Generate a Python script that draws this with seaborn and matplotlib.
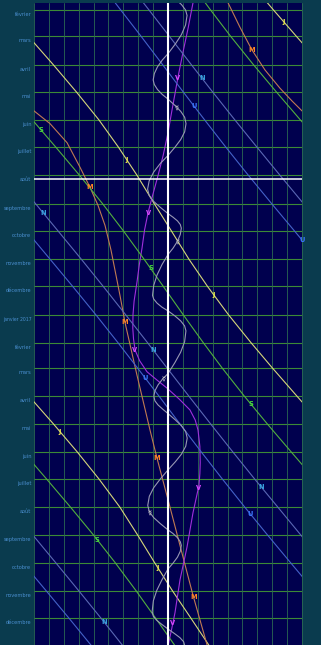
import matplotlib
matplotlib.use("Agg")
import matplotlib.pyplot as plt
import matplotlib.transforms as mtransforms
from matplotlib import font_manager
import numpy as np
import pandas as pd
import seaborn as sns

# ---------------- data (days since 2016-02-01, elongation in degrees; 0 = Sun) -------------
T0 = pd.Timestamp("2016-02-01")
month_names = ["février", "mars", "avril", "mai", "juin", "juillet", "août", "septembre",
               "octobre", "novembre", "décembre", "janvier 2017", "février", "mars", "avril",
               "mai", "juin", "juillet", "août", "septembre", "octobre", "novembre", "décembre"]
month_dates = ["2016-02-01", "2016-03-01", "2016-04-01", "2016-05-01", "2016-06-01", "2016-07-01",
               "2016-08-01", "2016-09-01", "2016-10-01", "2016-11-01", "2016-12-01", "2017-01-01",
               "2017-02-01", "2017-03-01", "2017-04-01", "2017-05-01", "2017-06-01", "2017-07-01",
               "2017-08-01", "2017-09-01", "2017-10-01", "2017-11-01", "2017-12-01"]
today_date = "2016-08-05"

outer_days = [-8, 0, 29, 60, 90, 121, 151, 182, 213, 243, 274, 304, 335, 366, 394, 425, 455,
              486, 516, 547, 578, 608, 639, 669, 700]
jupiter = [-226.6, -218.3, -187.5, -154.3, -123.2, -92.7, -66.5, -41.5, -18.5, 4.5, 28, 53, 81,
           111.5, 140.4, 173.4, 205.7, 237.9, 267.3, 295.4, 319.5, 342, 366, 390.7, 415.9]
saturn = [-310, -302.8, -275.8, -245.4, -214.6, -182.1, -150.6, -118.7, -88, -59.9, -32.3, -6.4,
          20.2, 47.4, 72.9, 102.7, 133, 165.3, 196.9, 229.1, 260.3, 289, 317.2, 343.3, 369.9]
uranus = [-71.0, -63.5, -36.1, -7.4, 20.3, 49.3, 77.8, 108.1, 139.2, 169.8, 201.4, 231.9, 262.8,
          292.8, 319.2, 348.1, 375.7, 404.5, 433, 463.2, 494.1, 524.6, 556.4, 586.9, 617.8]
neptune = [-33.1, -25.5, 1.9, 31.2, 59.8, 89.9, 119.6, 150.6, 182, 212.2, 243.4, 272.9, 302.9,
           332.5, 358.9, 388.2, 416.9, 446.9, 476.4, 507.6, 538.8, 569.1, 600.2, 629.9, 659.9]

mars_days = [-8, 19, 44, 66, 86, 100, 111, 125, 146, 173, 195, 215, 237, 264, 292, 314, 344,
             402, 462, 493, 547, 644, 700]
mars = [80.6, 96.7, 112.8, 130.3, 150.4, 166.5, 180, 201.5, 224.4, 241.8, 255.2, 266.0, 275.4,
        283.4, 290.2, 295.5, 302.3, 318.4, 335.8, 345.2, 362.7, 393.6, 413]

venus_days = [-8, 20, 45, 74, 110, 135, 160, 184, 205, 222, 242, 262, 280, 299, 320, 335, 350,
              362, 374, 386, 398, 407, 416, 428, 440, 451, 462, 480, 498, 510, 523, 553, 591,
              627, 663, 674, 700]
venus = [33.6, 27, 20.5, 13.4, 5.4, 0, -6.5, -14, -21, -26.5, -31.5, -34.9, -38.5, -41.6, -45.5,
         -47, -47.3, -46.3, -44.3, -38, -28.2, -15, -1.3, 15, 29.5, 36.5, 40.3, 42.8, 43.3, 42.8,
         41.6, 33.6, 25.5, 16.1, 9.4, 6.7, 0]

mercury_days = [-12, -6, 0, 6, 16.5, 27, 37.5, 48, 55, 62.5, 70, 77, 82, 87.5, 93, 98, 105, 111.5,
                118, 125, 134, 142.5, 151, 160, 169, 178.5, 188, 197, 204, 210.5, 217, 224, 228,
                232, 236, 240, 247, 254.5, 262, 269, 280, 291.5, 303, 314, 318, 322.5, 327, 331,
                336.5, 342, 347.5, 353, 365, 376.5, 388, 400, 406, 412.5, 419, 425, 430, 434.5,
                439, 444, 451, 457.5, 464, 471, 480, 488.5, 497, 506, 516, 525.5, 535, 545, 552,
                558.5, 565, 572, 576, 580.5, 585, 589, 595.5, 602, 608.5, 615, 627, 638.5, 650,
                662, 667, 671.5, 676, 681, 686, 690.5, 695, 700]
mercury = [9.8, 18.1, 23.6, 25.6, 23.6, 18.1, 9.8, 0, -7.6, -14.1, -18.4, -19.9, -18.4, -14.1,
           -7.6, 0, 9.3, 17.1, 22.4, 24.2, 22.4, 17.1, 9.3, 0, -10.5, -19.4, -25.3, -27.4, -25.3,
           -19.4, -10.5, 0, 6.8, 12.7, 16.5, 17.9, 16.5, 12.7, 6.8, 0, -8, -14.7, -19.2, -20.8,
           -19.2, -14.7, -8, 0, 9.2, 17, 22.3, 24.1, 22.3, 17, 9.2, 0, -7.3, -13.4, -17.6, -19,
           -17.6, -13.4, -7.3, 0, 9.9, 18.2, 23.8, 25.8, 23.8, 18.2, 9.9, 0, -10.4, -19.2, -25.1,
           -27.2, -25.1, -19.2, -10.4, 0, 6.8, 12.7, 16.5, 17.9, 16.5, 12.7, 6.8, 0, -8.2, -15.1,
           -19.7, -21.3, -19.7, -15.1, -8.2, 0, 8.7, 16, 21, 22.7]

planet_labels = ["J", "M", "V", "S", "U", "N", "☿"]
label_days = {
    "J": [13, 165, 313, 464, 614],
    "M": [44, 195, 343, 493, 646],
    "V": [75, 223, 374, 526, 674],
    "S": [132, 284, 434, 583],
    "U": [106, 253, 405, 554],
    "N": [75, 223, 374, 525, 673],
    "☿": [107, 255, 405, 553],
}

# ---------------- styling -------------
OUTER = "#0a3b4e"
NAVY = "#00004e"
HGRID = "#3c8a36"
VGRID = "#2c6a52"
series = {
    "J": (outer_days, jupiter, "#d6d67a", "#f2f048"),
    "M": (mars_days, mars, "#c07a52", "#ff8424"),
    "V": (venus_days, venus, "#a030dc", "#d848ff"),
    "S": (outer_days, saturn, "#52b03e", "#44d83c"),
    "U": (outer_days, uranus, "#4462c8", "#3a78ff"),
    "N": (outer_days, neptune, "#5a68b4", "#38a4e0"),
    "☿": (mercury_days, mercury, "#9898b4", "#c4c4c4"),
}

sns.set_style("dark")
plt.rcParams["font.family"] = ["DejaVu Sans"]

# pick a narrow / condensed sans face for the month labels if one is installed
narrow_file = None
cands = []
for f in font_manager.fontManager.ttflist:
    nm = f.name.lower()
    st = f.stretch
    is_narrow = ("narrow" in nm or "condensed" in nm or
                 st in ("condensed", "semi-condensed", "extra-condensed", "ultra-condensed") or
                 (isinstance(st, (int, float)) and st < 500))
    if is_narrow and f.style == "normal" and f.weight in (400, "normal", "regular"):
        pri = 0 if "liberation" in nm else (1 if "dejavu" in nm else 2)
        cands.append((pri, f.fname))
if cands:
    cands.sort()
    narrow_file = cands[0][1]
base_size = 4.1 if narrow_file else 3.4


def month_font(label):
    size = base_size * (0.9 if len(label) > 10 else 1.0)
    if narrow_file:
        return font_manager.FontProperties(fname=narrow_file, size=size)
    return font_manager.FontProperties(family="DejaVu Sans", size=size)


fig = plt.figure(figsize=(3.21, 6.45), dpi=100, facecolor=OUTER)
ax = fig.add_axes([34 / 321, 0, 268 / 321, 642 / 645])
ax.set_facecolor(NAVY)
ax.set_xlim(-180, 180)
ax.set_ylim(698.6, -7.7)
for s in ax.spines.values():
    s.set_visible(False)
ax.set_xticks([])
ax.set_yticks([])

month_days = [(pd.Timestamp(d) - T0).days for d in month_dates]
for d in month_days:
    ax.axhline(d, color=HGRID, lw=0.8, zorder=1)
for e in range(-180, 181, 20):
    ax.axvline(e, color=VGRID, lw=0.6, zorder=1, clip_on=False)

trans = mtransforms.blended_transform_factory(ax.transAxes, ax.transData)
for name, d in zip(month_names, month_days):
    ax.text(-0.01, d + 5, name, transform=trans, ha="right", va="center",
            fontproperties=month_font(name), color="#4a8fd0", clip_on=False)

# planet lines (wrapped around the +-180 edge)
for key in planet_labels:
    days, el, lc, tc = series[key]
    el = np.asarray(el, dtype=float)
    for k in range(-2, 3):
        shifted = el - 360 * k
        if shifted.max() < -180 or shifted.min() > 180:
            continue
        df = pd.DataFrame({"day": days, "elong": shifted})
        sns.lineplot(data=df, x="elong", y="day", sort=False, estimator=None, color=lc,
                     lw=0.8, ax=ax, legend=False, zorder=3)
    for ld in label_days[key]:
        ev = float(np.interp(ld, days, el))
        ev = (ev + 180) % 360 - 180
        ax.text(ev, ld, key, color=tc, fontsize=4.8, ha="center", va="center",
                fontweight="bold", family="DejaVu Sans", zorder=5)

ax.set_xlim(-180, 180)
ax.set_ylim(698.6, -7.7)
ax.set_xlabel("")
ax.set_ylabel("")

# Sun (vertical) and today (horizontal)
today = (pd.Timestamp(today_date) - T0).days
ax.axvline(0, color="white", lw=1.5, zorder=6)
ax.axhline(today, color="white", lw=1.1, zorder=6)

fig.savefig("out.png", dpi=100, facecolor=OUTER)
